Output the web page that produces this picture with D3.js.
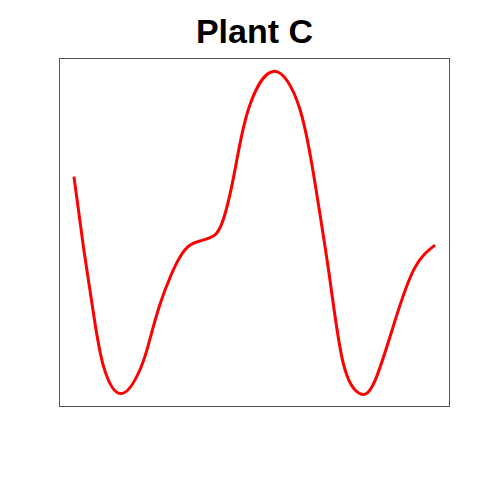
<!DOCTYPE html>
<html><head><meta charset="utf-8">
<script src="https://cdn.jsdelivr.net/npm/d3@7/dist/d3.min.js"></script>
<style>body{margin:0;background:#fff}svg{display:block}</style>
</head><body>
<svg id="c" width="480" height="480"></svg>
<script>
const title = "Plant C";
const xs = [0, 2.73, 5.5, 8.26, 13.1, 18.4, 21.2, 23.9, 26.7, 29.4, 32.2, 35.0, 37.7, 41.0, 44.6, 48.3, 55.2, 62.6, 67.2, 70.9, 74.6, 79.2, 83.4, 88.8, 94.3, 100];
const ys = [67.2, 44.6, 24.2, 8.2, 0, 7.7, 17.5, 27.9, 36.2, 42.4, 46.0, 47.3, 48.3, 52.8, 69.3, 88.0, 99.8, 88.0, 62.1, 35.2, 9.3, 0, 4.1, 22.2, 38.8, 46.0];
const data = xs.map((x, i) => ({x, y: ys[i]}));

const svg = d3.select("#c");
const L = 59.5, R = 449.5, T = 58.5, B = 406.5;
const xr = d3.extent(xs), yr = d3.extent(ys);
const xp = (xr[1]-xr[0])*0.04, yp = (yr[1]-yr[0])*0.04;
const x = d3.scaleLinear().domain([xr[0]-xp, xr[1]+xp]).range([L, R]);
const y = d3.scaleLinear().domain([yr[0]-yp, yr[1]+yp]).range([B, T]);

svg.append("rect").attr("x", L).attr("y", T).attr("width", R-L).attr("height", B-T)
  .attr("fill", "none").attr("stroke", "#555").attr("stroke-width", 1);

svg.append("path").datum(data)
  .attr("d", d3.line().x(d => x(d.x)).y(d => y(d.y)).curve(d3.curveNatural))
  .attr("fill", "none").attr("stroke", "#ff0000").attr("stroke-width", 3).attr("stroke-linejoin", "round");

svg.append("text").attr("x", 254.5).attr("y", 43).attr("text-anchor", "middle")
  .attr("font-family", "Liberation Sans, Arial, sans-serif").attr("font-weight", "bold")
  .attr("font-size", 34).text(title);
</script>
</body></html>
